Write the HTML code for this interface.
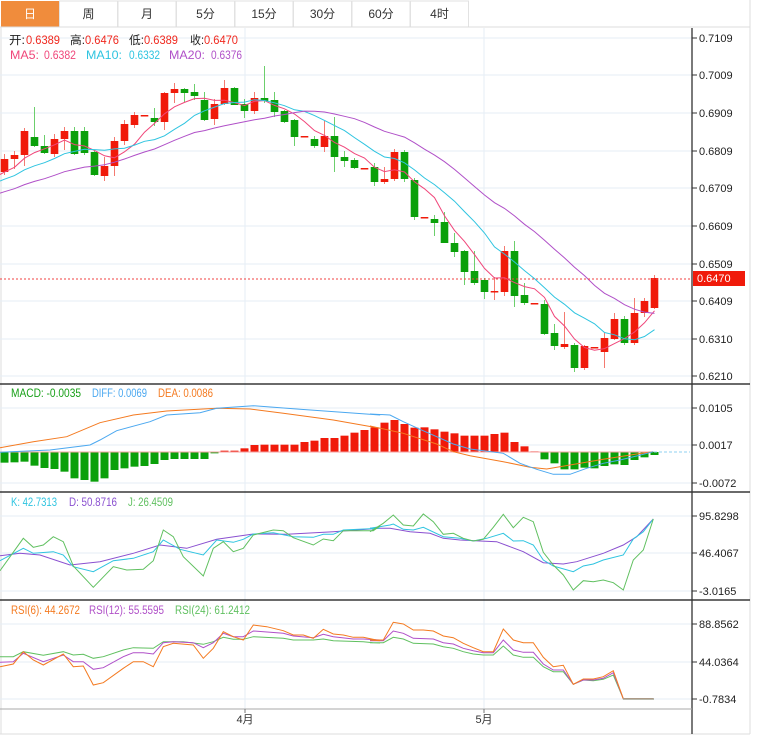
<!DOCTYPE html>
<html><head><meta charset="utf-8"><style>
body{margin:0;background:#fff;width:759px;height:744px;overflow:hidden;font-family:"Liberation Sans","Noto Sans CJK SC",sans-serif}
svg{position:absolute;left:0;top:0}
</style></head><body>
<svg id="s" width="759" height="744" xmlns="http://www.w3.org/2000/svg" font-family="Liberation Sans, Noto Sans CJK SC, sans-serif"></svg>
<script>
const S=document.getElementById('s');let h='';
function L(x1,y1,x2,y2,c,w,extra){h+=`<line x1="${x1}" y1="${y1}" x2="${x2}" y2="${y2}" stroke="${c}" stroke-width="${w||1}" ${extra||''}/>`;}
function R(x,y,w,hh,c,extra){h+=`<rect x="${x}" y="${y}" width="${w}" height="${hh}" fill="${c}" ${extra||''}/>`;}
function T(x,y,t,c,sz,anchor){h+=`<text x="${x}" y="${y}" fill="${c}" font-size="${sz||11}" ${anchor?'text-anchor="'+anchor+'"':''}>${t}</text>`;}
function TW(x,y,t,c,w){h+=`<text x="${x}" y="${y}" fill="${c}" font-size="11.5" textLength="${w}" lengthAdjust="spacingAndGlyphs">${t}</text>`;}
function P(pts,c,w){h+=`<polyline fill="none" stroke="${c}" stroke-width="${w||1}" points="${pts.map(p=>p[0].toFixed(1)+','+p[1].toFixed(1)).join(' ')}"/>`;}
function Z(arr,ox,oy){return arr.map(p=>[ox+p[0]/3,oy+p[1]/3]);}
const tabs=['日','周','月','5分','15分','30分','60分','4时'];
R(0,0,759,27,'#fff');
for(let i=0;i<8;i++){let x=1+i*58.5;
 if(i==0)R(x,1,58,26,'#f08c3c');else R(x,1,58,26,'#fff','stroke="#e2e2e2"');
 T(x+29,18,tabs[i],i==0?'#fff':'#333',12,'middle');}
L(0,27,750,27,'#dcdcdc');
L(1,27,1,734,'#ddd');L(750,0,750,734,'#ddd');L(0,734,750,734,'#ddd');
const gm=[[38,'0.7109'],[75,'0.7009'],[113,'0.6909'],[151,'0.6809'],[188,'0.6709'],[226,'0.6609'],[264,'0.6509'],[301,'0.6409'],[339,'0.6310'],[376,'0.6210']];
const gd=[[408,'0.0105'],[445,'0.0017'],[483,'-0.0072']];
const gk=[[516,'95.8298'],[553,'46.4067'],[591,'-3.0165']];
const gr=[[624,'88.8562'],[662,'44.0364'],[699,'-0.7834']];
for(const g of [gm,gd,gk,gr])for(const [y,t] of g){L(0,y,692,y,'#e6eef5');L(692,y,697,y,'#333');T(699,y+4,t,'#222',11);}
L(245,28,245,709,'#e6eef5');L(484,28,484,709,'#e6eef5');
const C=[[159,172,154,175,1],[155,159,151,169,1],[131,155,128,166,1],[137,146,107,147,0],[146,153,135,154,0],[139,154,134,157,1],[131,139,127,150,1],[131,154,127,155,0],[131,153,127,155,0],[152,175,150,176,0],
[166,176,157,181,1],[141,166,137,176,1],[124,141,120,145,1],[115,125,112,128,1],[115,116,115,116,1],[118,122,108,126,0],[93,122,92,130,1],[89,93,83,103,1],[89,93,88,102,0],[92,96,84,100,0],
[100,120,92,121,0],[104,119,99,125,1],[88,104,80,105,1],[88,105,87,105,0],[104,111,99,118,0],[98,111,92,114,1],[98,101,66,103,0],[100,112,92,117,0],[111,122,110,123,0],[120,137,119,146,0],
[136,137,136,137,1],[139,146,136,148,0],[136,147,121,152,1],[136,157,117,172,0],[157,161,151,167,0],[160,168,158,169,0],[168,169,168,169,1],[167,182,163,186,0],[179,182,167,184,1],[152,179,149,181,1],
[152,179,150,182,0],[180,217,178,220,0],[217,218,217,218,1],[219,223,215,236,0],[222,243,212,243,0],[243,252,233,257,0],[251,272,250,285,0],[271,283,251,285,0],[280,292,278,299,0],[291,292,277,300,1],
[251,292,246,296,1],[251,296,241,307,0],[295,303,283,305,0],[303,304,303,304,1],[304,334,300,335,0],[333,346,324,350,0],[344,347,312,349,1],[345,368,343,372,0],[346,368,345,370,1],[347,348,347,348,1],
[338,352,333,368,1],[319,339,313,340,1],[319,343,316,345,0],[313,343,298,345,1],[301,313,298,317,1],[278,308,275,309,1]];
const X=i=>4.5+i*10;
C.forEach((c,i)=>{const col=c[4]?'#f01a0a':'#0aa00a',wc=c[4]?'#f47a70':'#6ccf6c';
 L(X(i),c[2],X(i),c[3],wc,1);R(X(i)-3.8,c[0],7.6,Math.max(1.5,c[1]-c[0]),col);});
const cl=C.map(c=>c[4]?c[0]:c[1]);
const pre=[];for(let k=0;k<19;k++)pre.push(215-k*2.4);
const all=pre.concat(cl);
function ma(n,col){const pts=[];for(let i=0;i<cl.length;i++){let s=0;for(let k=0;k<n;k++)s+=all[19+i-k];pts.push([X(i),s/n]);}
 pts.unshift([0,pts[0][1]+ (pts[0][1]-pts[1][1])*0.5]);P(pts,col,1);}
ma(5,'#f0467a');ma(10,'#2ec4e0');ma(20,'#b050c8');
L(0,279,692,279,'#f04040',1,'stroke-dasharray="2,2"');
R(693,271,52,15,'#f01a0a');T(697,282,'0.6470','#fff',11);
const rd='#f0281e';
TW(9,44,'开:','#222',16);TW(26,44,'0.6389',rd,34);
TW(70,44,'高:','#222',15);TW(85,44,'0.6476',rd,34);
TW(129,44,'低:','#222',15);TW(144,44,'0.6389',rd,34);
TW(190,44,'收:','#222',14);TW(204,44,'0.6470',rd,34);
TW(10,59,'MA5:','#f0467a',29);TW(44,59,'0.6382','#f0467a',32);
TW(86,59,'MA10:','#2ec4e0',36);TW(129,59,'0.6332','#2ec4e0',31);
TW(169,59,'MA20:','#b050c8',36);TW(211,59,'0.6376','#b050c8',31);
const z0=452;
const hb=[248,247,245,257,264,267,275,295,300,305,295,270,265,260,258,252,240,237,237,237,237,220,212,212,205,195,194,194,194,194,186,182,174,174,167,158,150,142,128,120,132,143,142,148,155,160,167,167,167,162,158,186,199,214,238,250,268,268,263,265,258,253,255,240,232,225];
hb.forEach((v,i)=>{const y=380+v/3;const red=v<215;R(X(i)-4,Math.min(y,z0),8,Math.max(0.8,Math.abs(y-z0)),red?'#f01a0a':'#0aa00a');});
L(0,z0,650,z0,'#f4a0a0',1);
L(654,z0,690,z0,'#8fd0f0',1,'stroke-dasharray="3,2"');
P(Z([[0,203],[100,185],[200,170],[300,128],[400,105],[500,93],[650,85],[750,87],[850,100],[1000,120],[1140,145]],0,380).concat(Z([[0,138],[100,160],[200,192],[250,215],[300,227],[400,245],[480,262],[530,267],[600,255],[700,238],[800,222],[850,215]],370,380)),'#f47a20');
P(Z([[0,217],[150,210],[270,195],[300,180],[350,152],[450,125],[500,105],[600,98],[650,85],[760,77],[900,88],[1140,105]],0,380).concat(Z([[0,102],[60,105],[100,125],[150,148],[200,170],[250,192],[300,207],[400,220],[450,250],[500,268],[550,283],[600,283],[650,265],[700,250],[750,240],[800,228],[850,215]],370,380)),'#4ba8f0');
TW(11,397,'MACD: -0.0035','#18a018',70);TW(92,397,'DIFF: 0.0069','#4ba8f0',55);TW(158,397,'DEA: 0.0086','#f47a20',55);
P(Z([[0,197],[60,190],[120,195],[210,225],[300,215],[400,190],[480,165],[560,175],[650,148],[760,132],[860,133],[1000,125],[1140,115]],0,490).concat(Z([[0,115],[60,115],[120,125],[180,130],[220,145],[270,150],[330,153],[380,155],[420,170],[460,185],[520,218],[580,222],[620,215],[700,190],[760,165],[800,140],[850,87]],370,490)),'#8a50d0');
P(Z([[0,212],[70,175],[100,190],[160,185],[190,195],[220,230],[280,245],[340,212],[400,205],[460,185],[490,150],[540,178],[610,195],[650,150],[700,157],[730,148],[760,132],[820,128],[880,140],[940,142],[970,133],[1000,133],[1030,120],[1140,115]],0,490).concat(Z([[0,115],[60,105],[70,102],[100,118],[130,120],[160,112],[220,140],[270,145],[310,153],[350,145],[400,130],[430,153],[460,152],[490,165],[520,210],[550,228],[610,245],[640,228],[670,222],[700,210],[760,195],[790,147],[820,125],[850,87]],370,490)),'#2ec4e0');
P(Z([[0,242],[70,145],[100,172],[130,165],[160,140],[190,155],[220,228],[280,292],[340,230],[380,240],[430,238],[460,212],[490,120],[520,140],[550,200],[610,258],[640,175],[670,155],[700,185],[730,175],[760,135],[820,120],[850,122],[880,143],[940,165],[970,147],[1000,152],[1030,122],[1120,122],[1140,108]],0,490).concat(Z([[0,125],[40,100],[70,75],[100,105],[130,108],[160,72],[190,95],[220,133],[250,130],[280,145],[310,153],[340,148],[370,112],[400,73],[430,113],[460,82],[490,95],[520,187],[550,225],[580,255],[610,300],[640,272],[670,275],[700,270],[730,278],[760,300],[790,210],[820,180],[850,87]],370,490)),'#60c060');
TW(11,506,'K: 42.7313','#2ec4e0',46);TW(69,506,'D: 50.8716','#8a50d0',48);TW(128,506,'J: 26.4509','#60c060',45);
P(Z([[0,170],[40,170],[70,155],[130,166],[190,155],[220,165],[250,163],[280,175],[310,170],[370,150],[400,143],[460,145],[490,125],[550,125],[610,133],[640,125],[670,112],[700,118],[730,118],[760,110],[850,115],[880,120],[940,120],[970,117],[1000,122],[1090,125],[1120,128],[1140,129]],0,600).concat(Z([[0,128],[40,128],[70,112],[100,117],[130,130],[190,132],[220,140],[250,145],[280,155],[310,162],[340,165],[370,165],[400,138],[430,165],[460,172],[490,172],[520,200],[550,215],[580,215],[610,253],[640,240],[670,242],[700,238],[730,225],[760,296],[850,296]],370,600)),'#60c060');
P(Z([[0,187],[40,185],[70,160],[130,185],[190,165],[220,185],[250,185],[280,208],[310,203],[370,170],[400,158],[430,158],[460,162],[490,128],[520,125],[580,128],[610,143],[640,128],[670,100],[700,110],[730,110],[760,93],[850,100],[880,108],[940,113],[970,103],[1000,110],[1060,117],[1090,117],[1140,120]],0,600).concat(Z([[0,122],[40,122],[70,93],[100,100],[130,115],[190,117],[220,128],[250,132],[280,145],[310,152],[340,158],[370,158],[400,120],[430,150],[460,157],[490,157],[520,192],[550,210],[580,210],[610,253],[640,240],[670,240],[700,235],[730,218],[760,296],[850,296]],370,600)),'#b050c8');
P(Z([[0,200],[40,192],[70,155],[100,180],[130,195],[190,162],[220,200],[250,198],[280,255],[310,248],[370,205],[400,185],[430,185],[460,200],[490,140],[520,130],[580,135],[610,175],[640,145],[670,95],[700,110],[730,120],[760,75],[800,80],[850,92],[880,105],[910,105],[940,115],[970,88],[1000,102],[1030,105],[1060,112],[1090,112],[1140,122]],0,600).concat(Z([[0,120],[40,120],[70,67],[100,72],[130,90],[160,90],[190,93],[220,108],[250,113],[280,130],[310,143],[340,155],[370,155],[400,87],[430,120],[460,128],[490,128],[520,172],[550,200],[580,196],[610,253],[640,237],[670,237],[700,230],[730,212],[760,296],[850,296]],370,600)),'#f47a20');
L(623,699,654,699,'#a0a090',1.5);
TW(11,614,'RSI(6): 44.2672','#f47a20',69);TW(89,614,'RSI(12): 55.5595','#b050c8',75);TW(175,614,'RSI(24): 61.2412','#60c060',75);
L(0,384,750,384,'#111',1.3);L(0,492,750,492,'#111',1.3);L(0,600,750,600,'#111',1.3);
L(692,28,692,734,'#333',1.3);L(0,709,692,709,'#aaa');
L(245,709,245,713,'#777');L(484,709,484,713,'#777');
T(245,723,'4月','#333',11,'middle');T(484,723,'5月','#333',11,'middle');
S.innerHTML=h;
</script>
</body></html>
